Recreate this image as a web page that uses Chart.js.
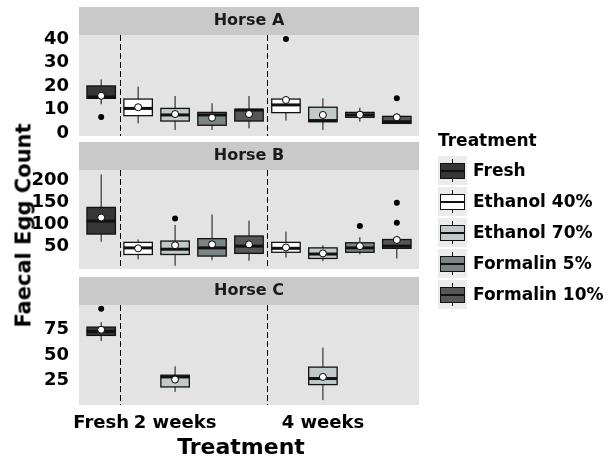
<!DOCTYPE html>
<html>
<head>
<meta charset="utf-8">
<script src="https://cdn.jsdelivr.net/npm/chart.js@4"></script>
<style>
  body{margin:0;background:#fff;width:612px;height:462px;overflow:hidden;position:relative;font-family:"DejaVu Sans",sans-serif;font-weight:bold;color:#000}
  canvas{position:absolute;left:0;top:0}
  #ytitle{position:absolute;left:-106.5px;top:215px;width:260px;height:21px;line-height:21px;font-size:21px;text-align:center;transform:rotate(-90deg);white-space:nowrap}
  #xtitle{position:absolute;left:141px;top:436px;width:200px;line-height:22px;font-size:22px;text-align:center}
  #legend{position:absolute;left:438px;top:130px}
  .lt{font-size:17px;line-height:20px;height:20px}
  .row{position:absolute;left:0;height:29px;width:180px}
  .key{position:absolute;left:0;top:0;width:29px;height:29px;background:#ececec}
  .wh{position:absolute;left:14px;top:3px;width:1px;height:23px;background:#111}
  .bx{position:absolute;left:2px;top:7px;width:23px;height:14px;border:1px solid #111}
  .md{position:absolute;left:0;top:6px;width:23px;height:2px;background:#111}
  .lab{position:absolute;left:35px;top:4px;font-size:17px;line-height:20px;white-space:nowrap}
</style>
</head>
<body>
<canvas id="cA" width="612" height="462"></canvas>
<canvas id="cB" width="612" height="462"></canvas>
<canvas id="cC" width="612" height="462"></canvas>
<div id="ytitle">Faecal Egg Count</div>
<div id="xtitle">Treatment</div>
<div id="legend"><div class="lt">Treatment</div></div>
<script>
// categories
const treatments = ['Fresh','Ethanol 40%','Ethanol 70%','Formalin 5%','Formalin 10%'];
const treatmentColors = ['#363636','#ffffff','#c1cac8','#7b8583','#575757'];
const xTickPos = [1,3,7];
const xTickLabels = ['Fresh','2 weeks','4 weeks'];
const dividers = [1.5,5.5];

// Horse A
const aPos    = [1,2,3,4,5,6,7,8,9];
const aTreat  = [0,1,2,3,4,1,2,3,4];
const aLower  = [12.3,4.1,1.3,1.3,2.0,5.3,1.3,4.8,4.1];
const aQ1     = [14.8,7.4,5.1,3.3,5.1,8.7,4.8,6.7,4.1];
const aMedian = [15.4,10.5,7.7,7.7,9.8,12.0,5.3,7.7,4.8];
const aQ3     = [20.1,14.5,10.5,8.8,10.1,14.5,11.0,8.8,7.1];
const aUpper  = [22.9,19.8,15.8,12.7,15.8,15.5,14.8,10.8,8.4];
const aMean   = [15.9,11.0,8.1,6.5,8.1,14.1,7.7,7.8,6.7];
const aOutX   = [1,6,9];
const aOutY   = [6.8,40.2,14.8];
const aTicks  = [0,10,20,30,40];

// Horse B
const bPos    = [1,2,3,4,5,6,7,8,9];
const bTreat  = [0,1,2,3,4,1,2,3,4];
const bLower  = [61,21,6.4,19,17.7,25,17,32,23];
const bQ1     = [78.4,32,32,28.4,34.5,37,23,37,46];
const bMedian = [108,47,44,47,51,46,33,47,51];
const bQ3     = [139,59.5,62.5,68,74,59.5,47,58.6,66];
const bUpper  = [214,66,99,123,109,84,53,71,66];
const bMean   = [116,46,53,55,55,48,34.5,51,65];
const bOutX   = [3,8,9,9];
const bOutY   = [114,97,149.5,104];
const bTicks  = [50,100,150,200];

// Horse C
const cPos    = [1,3,7];
const cTreat  = [0,2,2];
const cLower  = [63.8,13.5,5.3];
const cQ1     = [69.4,18.4,20.7];
const cMedian = [73.3,28.3,26.7];
const cQ3     = [77.6,30.0,38.0];
const cUpper  = [82.5,38.8,57.2];
const cMean   = [75.0,25.7,28.3];
const cOutX   = [1];
const cOutY   = [95.7];
const cTicks  = [25,50,75];

Chart.defaults.font.family = '"DejaVu Sans", sans-serif';
Chart.defaults.font.weight = 'bold';
Chart.defaults.color = '#000';

function panelPlugin(title, s){
  return {
    id:'panel'+title.replace(/\s/g,''),
    beforeDatasetsDraw(chart){
      const {ctx, chartArea:a, scales:{x,y}} = chart;
      ctx.save();
      ctx.fillStyle='#e3e3e3'; ctx.fillRect(a.left,a.top,a.right-a.left,a.bottom-a.top);
      ctx.fillStyle='#c9c9c9'; ctx.fillRect(a.left,a.top-28,a.right-a.left,28);
      ctx.fillStyle='#1a1a1a'; ctx.font='bold 16px "DejaVu Sans"';
      ctx.textAlign='center'; ctx.textBaseline='middle';
      ctx.fillText(title,(a.left+a.right)/2,a.top-14);
      ctx.strokeStyle='#000'; ctx.lineWidth=1; ctx.setLineDash([6,3]);
      dividers.forEach(v=>{
        const px=Math.round(x.getPixelForValue(v))+0.5;
        ctx.beginPath(); ctx.moveTo(px,a.top); ctx.lineTo(px,a.bottom); ctx.stroke();
      });
      ctx.setLineDash([]);
      s.pos.forEach((p,i)=>{
        const cx=x.getPixelForValue(p);
        const hw=x.getPixelForValue(p+0.385)-cx;
        const yl=y.getPixelForValue(s.lower[i]), y1=y.getPixelForValue(s.q1[i]);
        const ym=y.getPixelForValue(s.median[i]), y3=y.getPixelForValue(s.q3[i]);
        const yu=y.getPixelForValue(s.upper[i]);
        ctx.strokeStyle='#111'; ctx.lineWidth=1;
        ctx.beginPath(); ctx.moveTo(cx,yu); ctx.lineTo(cx,y3); ctx.moveTo(cx,y1); ctx.lineTo(cx,yl); ctx.stroke();
        ctx.fillStyle=treatmentColors[s.treat[i]];
        ctx.fillRect(cx-hw,y3,2*hw,y1-y3);
        ctx.lineWidth=1.3; ctx.strokeRect(cx-hw,y3,2*hw,y1-y3);
        ctx.lineWidth=3;
        ctx.beginPath(); ctx.moveTo(cx-hw,ym); ctx.lineTo(cx+hw,ym); ctx.stroke();
      });
      ctx.restore();
    }
  };
}

function makePanel(id, title, s, yMin, yMax, yTicks, padTop, padBottom, showX){
  const pts=(xs,ys)=>xs.map((v,i)=>({x:v,y:ys[i]}));
  return new Chart(document.getElementById(id),{
    type:'scatter',
    data:{datasets:[
      {data:pts(s.outX,s.outY),pointRadius:3,backgroundColor:'#000',borderColor:'#000',borderWidth:0},
      {data:pts(s.pos,s.mean),pointRadius:3.5,backgroundColor:'#fff',borderColor:'#000',borderWidth:1}
    ]},
    options:{
      responsive:false,animation:false,
      layout:{padding:{left:0,right:193,top:padTop,bottom:padBottom}},
      plugins:{legend:{display:false},tooltip:{enabled:false}},
      scales:{
        x:{type:'linear',min:0.4,max:9.6,display:showX,
           grid:{display:false,drawTicks:false},border:{display:false},
           afterBuildTicks(sc){sc.ticks=xTickPos.map(v=>({value:v}));},
           afterFit(sc){sc.height=showX?57:0;},
           ticks:{autoSkip:false,maxRotation:0,padding:8,font:{size:18,weight:'bold'},color:'#000',
                  callback:v=>xTickLabels[xTickPos.indexOf(v)]}},
        y:{min:yMin,max:yMax,
           grid:{display:false,drawTicks:false},border:{display:false},
           afterBuildTicks(sc){sc.ticks=yTicks.map(v=>({value:v}));},
           afterFit(sc){sc.width=79;},
           ticks:{autoSkip:false,padding:10,font:{size:18,weight:'bold'},color:'#000'}}
      }
    },
    plugins:[panelPlugin(title,s)]
  });
}

makePanel('cA','Horse A',{pos:aPos,treat:aTreat,lower:aLower,q1:aQ1,median:aMedian,q3:aQ3,upper:aUpper,mean:aMean,outX:aOutX,outY:aOutY},-1.3,41.9,aTicks,35,326,false);
makePanel('cB','Horse B',{pos:bPos,treat:bTreat,lower:bLower,q1:bQ1,median:bMedian,q3:bQ3,upper:bUpper,mean:bMean,outX:bOutX,outY:bOutY},-1,224,bTicks,170,193,false);
makePanel('cC','Horse C',{pos:cPos,treat:cTreat,lower:cLower,q1:cQ1,median:cMedian,q3:cQ3,upper:cUpper,mean:cMean,outX:cOutX,outY:cOutY},0.5,99.5,cTicks,305,0,true);

// legend
const leg=document.getElementById('legend');
treatments.forEach((t,i)=>{
  const r=document.createElement('div');
  r.className='row'; r.style.top=(26+31*i)+'px';
  r.innerHTML='<div class="key"><div class="wh"></div><div class="bx" style="background:'+treatmentColors[i]+'"><div class="md"></div></div></div><div class="lab">'+t+'</div>';
  leg.appendChild(r);
});
</script>
</body>
</html>
